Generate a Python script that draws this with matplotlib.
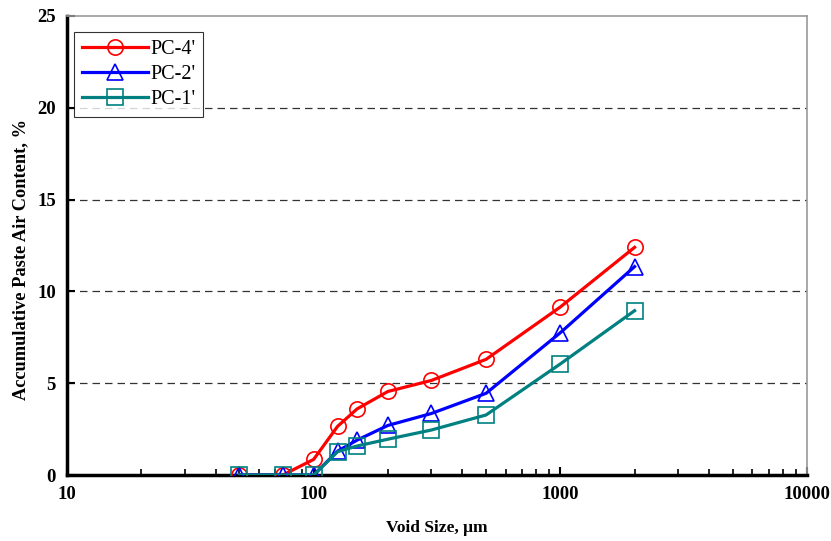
import matplotlib.pyplot as plt
from matplotlib.ticker import LogLocator, FixedLocator, NullFormatter

plt.rcParams['font.family'] = ['Liberation Serif', 'DejaVu Serif']

void_size = [50, 75, 100, 125, 150, 200, 300, 500, 1000, 2000]
pc4 = [0, 0, 0.85, 2.65, 3.6, 4.55, 5.15, 6.3, 9.15, 12.4]
pc2 = [0, 0, 0, 1.3, 1.9, 2.7, 3.35, 4.45, 7.75, 11.35]
pc1 = [0, 0, 0, 1.27, 1.58, 1.95, 2.45, 3.27, 6.05, 8.95]

series = [
    ("PC-4'", pc4, 'red', 'o'),
    ("PC-2'", pc2, 'blue', '^'),
    ("PC-1'", pc1, '#008080', 's'),
]

fig = plt.figure(figsize=(8.31, 5.41), dpi=100)
ax = fig.add_axes([67 / 831, 1 - 475 / 541, (807 - 67) / 831, (475 - 16) / 541])

for name, vals, col, mk in series:
    ax.plot(void_size, vals, color=col, lw=2.3, marker=mk, ms=11,
            mfc='none', mec=col, mew=1.2, label=name, zorder=3)

ax.set_xscale('log')
ax.set_xlim(10, 10000)
ax.set_ylim(0, 25)
ax.set_yticks([0, 5, 10, 15, 20, 25])
ax.xaxis.set_major_locator(FixedLocator([10, 100, 1000, 10000]))
ax.xaxis.set_minor_locator(LogLocator(base=10, subs=range(2, 10)))
ax.xaxis.set_minor_formatter(NullFormatter())
ax.set_xticklabels(['10', '100', '1000', '10000'])

for y in [5, 10, 15, 20]:
    ax.axhline(y, color='#333333', lw=0.9, ls=(0, (6, 4)), zorder=1)

ax.tick_params(axis='both', which='major', direction='in', length=6, width=1.5,
               labelsize=13.5, pad=8)
ax.tick_params(axis='x', which='minor', direction='in', length=4, width=1.2)
for lab in ax.get_xticklabels() + ax.get_yticklabels():
    lab.set_fontweight('bold')

ax.spines['left'].set_linewidth(2.5)
ax.spines['bottom'].set_linewidth(2.5)
ax.spines['left'].set_color('black')
ax.spines['bottom'].set_color('black')
ax.spines['top'].set_color('#999999')
ax.spines['right'].set_color('#999999')
ax.spines['top'].set_linewidth(1.2)
ax.spines['right'].set_linewidth(1.2)

ax.set_xlabel('Void Size, μm', fontsize=12.5, fontweight='bold', labelpad=12)
ax.set_ylabel('Accumulative Paste Air Content, %', fontsize=13.2, fontweight='bold',
              va='center')
ax.yaxis.set_label_coords(-0.062, 0.47)

leg = ax.legend(loc='upper left', bbox_to_anchor=(0.009, 0.965), fontsize=14.5,
                frameon=True, fancybox=False, edgecolor='black', handlelength=3.3,
                handletextpad=0.1, borderpad=0.4, labelspacing=0.28, borderaxespad=0)
leg.get_frame().set_linewidth(0.8)

fig.savefig('out.png', dpi=100)
